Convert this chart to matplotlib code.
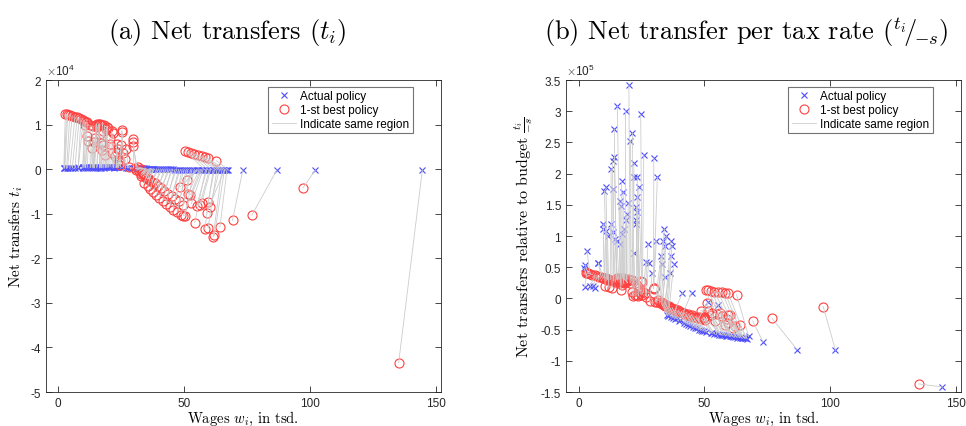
import numpy as np
import matplotlib
matplotlib.use("Agg")
from matplotlib import pyplot as plt
from matplotlib.ticker import FuncFormatter

plt.rcParams['font.family'] = ['Liberation Sans', 'DejaVu Sans']
plt.rcParams['mathtext.fontset'] = 'cm'
plt.rcParams['axes.unicode_minus'] = False

# one entry per region: actual wage / first-best wage (tsd.)
w_act = [2.2, 2.4, 2.6, 3.3, 3.7, 4.6, 5.6, 6.6, 7.9, 7.9,
         9.8, 9.8, 10.3, 10.8, 10.9, 11.5, 12.7, 12.9, 13.5, 13.8,
         13.8, 14.2, 14.2, 14.4, 15.3, 15.4, 16.4, 16.4, 16.7, 17.1,
         17.1, 17.7, 18.1, 18.7, 18.8, 19.1, 19.7, 20.0, 20.6, 21.4,
         22.0, 22.0, 22.0, 23.0, 23.0, 23.0, 23.2, 23.3, 23.4, 23.9,
         24.7, 25.9,
         26.7, 27.6, 27.8, 29.3, 29.9, 30.9, 31.3, 32.8, 33.2, 33.5,
         34.1, 34.4, 34.5, 34.8, 36.2, 36.6, 36.7, 37.1, 37.8,
         35.0, 35.5, 36.0, 36.8, 37.5, 38.2, 39.0, 39.8, 40.5, 41.3,
         42.0, 42.8, 43.5, 44.3, 44.9, 45.5, 46.3, 47.0, 47.8, 48.5,
         49.2, 50.0, 50.8, 51.5, 52.5, 53.1, 54.0,
         58.0, 59.5, 61.0, 62.5, 63.5, 64.5, 65.5, 66.5, 67.6,
         55.0, 55.5, 56.0, 56.5, 57.0, 57.5, 58.5, 59.0, 60.0, 60.5,
         61.5, 62.0, 63.0, 64.0, 65.0, 66.0, 67.0, 66.0,
         73.3, 86.8, 102.1, 144.6]
w_best = [2.8, 3.3, 3.8, 4.6, 5.5, 6.6, 7.5, 8.3, 9.0, 9.9,
          10.2, 10.6, 11.0, 11.3, 11.5, 12.0, 12.6, 13.3, 13.8, 14.0,
          14.6, 15.0, 15.2, 15.5, 16.0, 16.5, 16.5, 16.8, 17.2, 17.5,
          17.9, 17.9, 18.3, 18.5, 19.2, 19.0, 19.6, 20.5, 20.5, 21.2,
          21.2, 21.7, 22.5, 23.2, 23.2, 23.8, 24.0, 24.2, 24.5, 25.0,
          25.2, 25.4,
          25.8, 26.5, 26.9, 28.2, 29.8, 29.8, 29.8, 30.5, 31.0, 31.5,
          32.2, 32.8, 33.0, 33.5, 34.0, 34.5, 35.0, 35.6, 36.1,
          33.0, 33.8, 34.2, 34.8, 35.5, 36.0, 36.5, 37.2, 37.8, 38.5,
          39.0, 39.6, 40.2, 40.8, 41.5, 42.0, 42.8, 43.5, 44.2, 45.0,
          45.6, 46.5, 47.2, 48.0, 48.8, 49.7, 50.3,
          50.5, 51.5, 52.7, 54.0, 55.5, 57.0, 58.2, 59.5, 62.8,
          51.0, 48.5, 51.6, 52.5, 49.7, 52.9, 54.2, 54.9, 56.2, 56.9,
          58.2, 59.5, 59.5, 60.2, 61.5, 62.0, 64.2, 58.9,
          69.2, 76.9, 97.2, 135.2]

# net transfers t_i (x 1e4)
t_act = [0.03, 0.02, 0.03, 0.02, 0.03, 0.02, 0.03, 0.02, 0.04, 0.03,
         0.04, 0.03, 0.04, 0.03, 0.04, 0.03, 0.04, 0.04, 0.05, 0.04,
         0.03, 0.05, 0.04, 0.03, 0.03, 0.05, 0.04, 0.03, 0.04, 0.04,
         0.03, 0.04, 0.03, 0.05, 0.04, 0.04, 0.04, 0.05, 0.05, 0.05,
         0.04, 0.04, 0.03, 0.04, 0.04, 0.04, 0.04, 0.04, 0.04, 0.04,
         0.05, 0.05,
         0.03, 0.03, 0.03, 0.02, 0.03, 0.02, 0.03, 0.02, 0.02, 0.02,
         0.02, 0.01, 0.01, 0.02, 0.01, 0.01, 0.01, 0.01, 0.01,
         0.00, 0.00, 0.00, 0.00, 0.00, 0.00, 0.00, 0.00, 0.00, 0.00,
         0.00, 0.00, 0.00, 0.00, 0.00, 0.00, -0.01, -0.01, -0.01, -0.01,
         -0.01, -0.01, -0.01, -0.01, -0.01, -0.01, -0.01,
         -0.01, -0.01, -0.01, -0.01, -0.01, -0.02, -0.02, -0.02, -0.02,
         -0.01, -0.01, -0.01, -0.01, -0.01, -0.01, -0.01, -0.01, -0.01, -0.01,
         -0.02, -0.02, -0.02, -0.02, -0.02, -0.02, -0.02, -0.02,
         -0.02, -0.02, -0.02, -0.02]
t_best = [1.24, 1.23, 1.22, 1.21, 1.19, 1.17, 1.16, 1.15, 1.13, 1.10,
          1.08, 1.00, 1.06, 0.74, 1.05, 0.63, 0.98, 0.47, 0.96, 0.62,
          0.71, 1.00, 1.02, 0.94, 1.01, 1.02, 0.79, 0.58, 0.43, 1.00,
          0.86, 0.54, 0.98, 0.32, 0.95, 0.90, 0.93, 0.69, 0.56, 0.85,
          0.36, 0.80, 0.30, 0.57, 0.39, 0.46, 0.20, 0.15, 0.10, 0.55,
          0.87, 0.84,
          0.37, 0.22, 0.46, 0.05, 0.67, 0.60, 0.52, 0.02, -0.02, 0.05,
          -0.05, 0.00, -0.10, -0.08, -0.12, -0.15, -0.18, -0.20, -0.25,
          -0.15, -0.10, -0.30, -0.20, -0.38, -0.22, -0.45, -0.28, -0.52, -0.30,
          -0.58, -0.38, -0.65, -0.42, -0.72, -0.48, -0.78, -0.55, -0.85, -0.60,
          -0.92, -0.68, -0.97, -0.72, -1.02, -0.80, -1.05,
          0.41, 0.39, 0.37, 0.34, 0.32, 0.29, 0.27, 0.24, 0.19,
          -0.25, -0.40, -0.55, -0.57, -1.04, -0.77, -1.20, -0.83, -0.81, -0.76,
          -1.34, -0.74, -1.32, -0.85, -1.52, -1.48, -1.30, -0.98,
          -1.15, -1.03, -0.42, -4.34]

# net transfers relative to budget t_i/(-s) (x 1e5)
r_act = [0.48, 0.18, 0.54, 0.76, 0.41, 0.20, 0.20, 0.17, 0.57, 0.56,
         1.19, 1.11, 1.72, 1.08, 1.78, 1.00, 1.19, 2.07, 2.20, 1.75,
         1.06, 2.71, 2.26, 0.95, 0.92, 3.08, 1.56, 0.87, 1.48, 1.88,
         1.03, 1.70, 1.11, 3.01, 1.26, 1.35, 1.53, 3.42, 2.53, 2.65,
         2.17, 1.94, 0.73, 1.46, 1.26, 1.19, 1.62, 1.94, 1.38, 1.78,
         2.95, 2.30,
         0.59, 0.87, 0.57, 0.41, 2.25, 0.92, 1.94, 0.68, 0.55, 0.92,
         1.11, 0.84, 0.35, 1.00, 0.41, 0.92, 0.68, 0.84, 0.55,
         -0.26, -0.28, -0.27, -0.30, -0.31, -0.33, -0.32, -0.36, -0.35, 0.09,
         -0.39, -0.41, -0.42, -0.44, 0.09, -0.46, -0.47, -0.48, -0.50, -0.51,
         -0.52, -0.53, -0.54, -0.06, -0.55, -0.56, -0.57,
         -0.58, -0.59, -0.60, -0.61, -0.62, -0.62, -0.63, -0.64, -0.61,
         -0.57, -0.10, -0.58, -0.58, -0.59, -0.59, -0.60, -0.60, -0.61, -0.61,
         -0.62, -0.62, -0.63, -0.63, -0.64, -0.64, -0.65, -0.63,
         -0.70, -0.82, -0.83, -1.42]
r_best = [0.41, 0.40, 0.40, 0.39, 0.38, 0.37, 0.36, 0.35, 0.34, 0.33,
          0.33, 0.20, 0.32, 0.30, 0.31, 0.18, 0.30, 0.17, 0.29, 0.28,
          0.26, 0.31, 0.33, 0.29, 0.30, 0.33, 0.25, 0.14, 0.22, 0.32,
          0.27, 0.24, 0.30, 0.29, 0.28, 0.26, 0.31, 0.30, 0.25, 0.29,
          0.10, 0.04, 0.05, 0.22, 0.05, 0.04, 0.16, 0.12, 0.08, 0.28,
          0.06, 0.26,
          0.10, 0.08, 0.03, -0.04, 0.17, 0.17, 0.15, -0.05, -0.06, -0.03,
          -0.07, -0.05, -0.09, -0.08, -0.10, -0.11, -0.12, -0.13, -0.12,
          -0.08, -0.10, -0.12, -0.11, -0.14, -0.13, -0.16, -0.15, -0.18, -0.17,
          -0.20, -0.19, -0.22, -0.21, -0.24, -0.23, -0.26, -0.25, -0.28, -0.27,
          -0.30, -0.29, -0.31, -0.30, -0.33, -0.32, -0.34,
          0.13, 0.13, 0.12, 0.11, 0.10, 0.10, 0.09, 0.08, 0.06,
          -0.07, -0.20, -0.20, -0.26, -0.30, -0.23, -0.36, -0.25, -0.23, -0.28,
          -0.42, -0.26, -0.40, -0.26, -0.47, -0.44, -0.42, -0.33,
          -0.36, -0.32, -0.13, -1.37]

w_act = np.array(w_act)
w_best = np.array(w_best)
t_act = np.array(t_act) * 1e4
t_best = np.array(t_best) * 1e4
r_act = np.array(r_act) * 1e5
r_best = np.array(r_best) * 1e5

blue = (0.3, 0.3, 1.0)
red = (1.0, 0.25, 0.25)
grey = (0.8, 0.8, 0.8)
axcol = (0.15, 0.15, 0.15)
cm = {'family': 'cmr10'}

fig = plt.figure(figsize=(9.66, 4.27), dpi=100)
ax1 = fig.add_axes([0.0473, 0.0796, 0.4092, 0.7307])
ax2 = fig.add_axes([0.5859, 0.0796, 0.4090, 0.7307])


def panel(ax, ya, yb, scale, expo):
    ax.plot(w_act, ya, 'x', color=blue, ms=5, mew=0.8, label='Actual policy')
    ax.plot(w_best, yb, 'o', color=red, mfc='none', ms=6.5, mew=0.8, label='1-st best policy')
    ls = ax.plot(np.vstack([w_best, w_act]), np.vstack([yb, ya]), '-', color=grey, lw=0.6)
    ls[0].set_label('Indicate same region')
    ax.set_xticks([0, 50, 100, 150])
    ax.tick_params(direction='in', top=True, right=True, length=4, width=0.6,
                   labelsize=8.5, colors=axcol)
    for s in ax.spines.values():
        s.set_color(axcol)
        s.set_linewidth(0.6)
    ax.yaxis.set_major_formatter(FuncFormatter(lambda v, p: '%g' % round(v / scale, 2)))
    ax.text(0, 1.006, r'$\times\mathdefault{10^{%d}}$' % expo, transform=ax.transAxes,
            fontsize=8.5, color=axcol, va='bottom', ha='left')
    ax.set_xlabel(r'Wages $w_i$, in tsd.', fontdict=cm, fontsize=10.5, labelpad=0)
    leg = ax.legend(loc='upper right', bbox_to_anchor=(0.929, 0.978), numpoints=1,
                    fancybox=False, framealpha=1, edgecolor=(0.45, 0.45, 0.45),
                    fontsize=8.5, handlelength=2.0, borderpad=0.3, labelspacing=0.15,
                    handletextpad=0.4, borderaxespad=0)
    leg.get_frame().set_linewidth(0.8)


panel(ax1, t_act, t_best, 1e4, 4)
ax1.set_xlim(-5, 152)
ax1.set_ylim(-5e4, 2e4)
ax1.set_yticks(np.arange(-5, 3) * 1e4)
ax1.set_ylabel(r'Net transfers $t_i$', fontdict=cm, fontsize=11, labelpad=4)

panel(ax2, r_act, r_best, 1e5, 5)
ax2.set_xlim(-5, 152)
ax2.set_ylim(-1.5e5, 3.5e5)
ax2.set_yticks(np.arange(-1.5, 3.6, 0.5) * 1e5)
ax2.set_ylabel(r'Net transfers relative to budget $\frac{t_i}{-s}$', fontdict=cm,
               fontsize=11.5, labelpad=4)

fig.text(0.235, 0.925, r'(a) Net transfers $(t_i)$', fontdict=cm, fontsize=19,
         ha='center', va='center')
fig.text(0.772, 0.925, r'(b) Net transfer per tax rate $({}^{t_i}\!/\!{}_{-s})$',
         fontdict=cm, fontsize=19, ha='center', va='center')

fig.savefig('out.png', dpi=100)
